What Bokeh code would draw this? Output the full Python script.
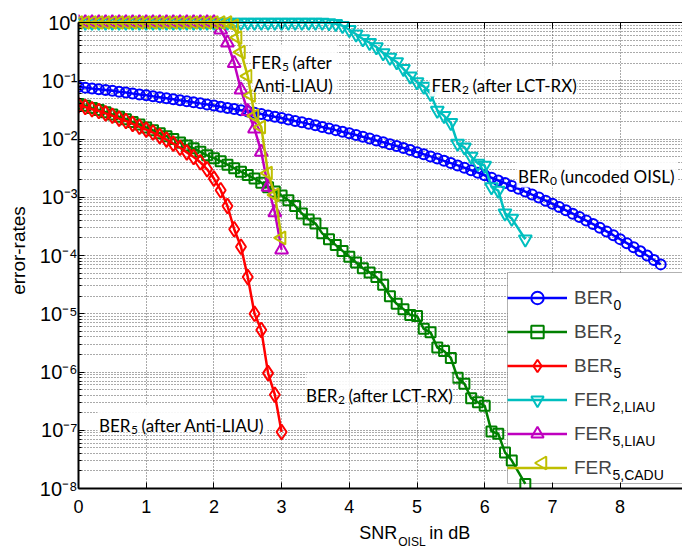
import math
from bokeh.plotting import figure
from bokeh.layouts import column
from bokeh.models import (Range1d, FixedTicker, LinearAxis, Label, Legend, LegendItem,
                          BoxAnnotation, CustomJSTickFormatter)
from bokeh.embed import file_html
from bokeh.resources import INLINE

# ---------------- data ----------------
snr_ber0 = [i / 10 for i in range(87)]
ber0 = [7.87e-2, 7.62e-2, 7.38e-2, 7.15e-2, 6.93e-2, 6.71e-2, 6.48e-2, 6.26e-2, 6.04e-2, 5.83e-2,
        5.63e-2, 5.42e-2, 5.22e-2, 5.02e-2, 4.83e-2, 4.64e-2, 4.46e-2, 4.27e-2, 4.09e-2, 3.92e-2,
        3.75e-2, 3.58e-2, 3.42e-2, 3.26e-2, 3.11e-2, 2.96e-2, 2.82e-2, 2.68e-2, 2.54e-2, 2.41e-2,
        2.29e-2, 2.16e-2, 2.04e-2, 1.93e-2, 1.82e-2, 1.72e-2, 1.61e-2, 1.52e-2, 1.42e-2, 1.33e-2,
        1.25e-2, 1.17e-2, 1.09e-2, 1.02e-2, 9.45e-3, 8.79e-3, 8.16e-3, 7.55e-3, 6.99e-3, 6.45e-3,
        5.95e-3, 5.47e-3, 5.03e-3, 4.62e-3, 4.22e-3, 3.86e-3, 3.52e-3, 3.21e-3, 2.91e-3, 2.64e-3,
        2.39e-3, 2.16e-3, 1.94e-3, 1.75e-3, 1.56e-3, 1.40e-3, 1.25e-3, 1.11e-3, 9.88e-4, 8.74e-4,
        7.72e-4, 6.81e-4, 5.97e-4, 5.23e-4, 4.57e-4, 3.98e-4, 3.46e-4, 3.00e-4, 2.59e-4, 2.23e-4,
        1.91e-4, 1.63e-4, 1.39e-4, 1.18e-4, 9.98e-5, 8.39e-5, 7.04e-5]

snr_ber2 = [i / 10 for i in range(65)] + [6.6]
ber2 = [3.98e-2, 3.72e-2, 3.39e-2, 3.16e-2, 2.88e-2, 2.63e-2, 2.40e-2, 2.19e-2, 1.95e-2, 1.78e-2,
        1.58e-2, 1.41e-2, 1.26e-2, 1.12e-2, 1.00e-2, 8.71e-3, 7.76e-3, 6.92e-3, 6.03e-3, 5.25e-3,
        4.68e-3, 4.17e-3, 3.63e-3, 3.16e-3, 2.75e-3, 2.40e-3, 2.09e-3, 1.78e-3, 1.48e-3, 1.26e-3,
        1.07e-3, 8.91e-4, 7.08e-4, 5.25e-4, 4.17e-4, 3.55e-4, 2.40e-4, 1.91e-4, 1.51e-4, 1.20e-4,
        9.55e-5, 7.59e-5, 6.03e-5, 5.13e-5, 4.27e-5, 3.16e-5, 2.00e-5, 1.48e-5, 1.20e-5, 9.55e-6,
        9.12e-6, 5.50e-6, 4.79e-6, 2.63e-6, 2.29e-6, 1.74e-6, 7.94e-7, 6.31e-7, 3.55e-7, 3.02e-7,
        2.63e-7, 9.55e-8, 8.71e-8, 4.17e-8, 3.02e-8, 1.20e-8]

snr_ber5 = [i / 10 for i in range(31)]
ber5 = [3.80e-2, 3.55e-2, 3.24e-2, 3.02e-2, 2.75e-2, 2.51e-2, 2.24e-2, 2.04e-2, 1.82e-2, 1.62e-2,
        1.45e-2, 1.29e-2, 1.12e-2, 9.77e-3, 8.32e-3, 7.08e-3, 5.89e-3, 4.90e-3, 3.98e-3, 3.02e-3,
        2.09e-3, 1.32e-3, 7.08e-4, 2.82e-4, 1.41e-4, 4.27e-5, 1.00e-5, 5.25e-6, 9.55e-7, 4.07e-7,
        9.33e-8]

snr_fer2 = [i / 10 for i in range(65)] + [6.6]
fer2 = [1.0] * 37 + [0.98, 0.95, 0.88, 0.75, 0.63, 0.52, 0.45, 0.38, 0.30, 0.25, 0.21, 0.16, 0.12,
                     0.095, 0.08, 0.06, 0.031, 0.025, 0.019, 8.4e-3, 7.2e-3, 5.0e-3, 3.8e-3, 3.5e-3,
                     1.5e-3, 1.3e-3, 5.3e-4, 4.3e-4, 1.9e-4]

snr_fer5l = [i / 10 for i in range(21)] + [2.1, 2.2, 2.3, 2.4, 2.5, 2.6, 2.7, 2.8, 2.9, 3.0]
fer5l = [1.0] * 21 + [0.75, 0.45, 0.2, 0.07, 0.03, 0.015, 6.0e-3, 1.5e-3, 5.5e-4, 1.25e-4]

snr_fer5c = [i / 10 for i in range(23)] + [2.3, 2.35, 2.4, 2.5, 2.55, 2.6, 2.7, 2.8, 2.9, 3.0]
fer5c = [1.0] * 23 + [0.88, 0.55, 0.31, 0.12, 0.056, 0.025, 0.016, 2.6e-3, 1.1e-3, 2.0e-4]

x_ticks = [0, 1, 2, 3, 4, 5, 6, 7, 8]
y_exponents = [0, -1, -2, -3, -4, -5, -6, -7, -8]
SUP = str.maketrans("0123456789-", "⁰¹²³⁴⁵⁶⁷⁸⁹⁻")
y_tick_labels = {10.0 ** e: "10" + str(e).translate(SUP) for e in y_exponents}

# ---------------- geometry (page has no margin) ----------------
W = 682
FRAME_L, AX_T, FRAME_B = 78, 22, 488      # AX_T: pixel row of the 10^0 line (top of the box)
FRAME_T = 12                               # canvas frame a little higher so top markers show whole
H_MAIN = 522
H_BOT = 548 - H_MAIN
PX_PER_X = 67.7
X_END = (W - FRAME_L) / PX_PER_X
PX_PER_DEC = (FRAME_B - AX_T) / 8.0
Y_END = 10 ** ((AX_T - FRAME_T) / PX_PER_DEC)
LEFT_TRI = math.pi / 2


def dx(px):
    return (px - FRAME_L) / PX_PER_X


def dy(py):
    return 10 ** (-(py - AX_T) / PX_PER_DEC)


p = figure(width=W, height=H_MAIN, y_axis_type="log", output_backend="svg", toolbar_location=None,
           x_range=Range1d(0, X_END), y_range=Range1d(1e-8, Y_END),
           min_border_left=FRAME_L, min_border_right=0, min_border_top=FRAME_T,
           min_border_bottom=H_MAIN - FRAME_B)
p.outline_line_color = None
p.background_fill_color = "white"
p.border_fill_color = "white"

minor = [k * 10.0 ** e for e in range(-8, 0) for k in range(2, 10)]
yt = FixedTicker(ticks=[10.0 ** e for e in y_exponents], minor_ticks=minor)
xt = FixedTicker(ticks=x_ticks, minor_ticks=[])
empty = CustomJSTickFormatter(code="return ''")

AX = "Liberation Sans"
p.xaxis.ticker = xt
p.xaxis.major_label_text_font = AX
p.xaxis.major_label_text_font_size = "18px"
p.xaxis.major_label_text_color = "black"
p.xaxis.major_label_standoff = 11
p.xaxis.major_tick_in = 6
p.xaxis.major_tick_out = 0
p.xaxis.minor_tick_in = 0
p.xaxis.minor_tick_out = 0
p.xaxis.axis_line_width = 2

p.yaxis.ticker = yt
p.yaxis.bounds = (1e-8, 1.0)
p.yaxis.major_label_overrides = y_tick_labels
p.yaxis.major_label_text_font = AX
p.yaxis.major_label_text_font_size = "20px"
p.yaxis.major_label_text_color = "black"
p.yaxis.major_label_standoff = 1
p.yaxis.major_tick_in = 6
p.yaxis.major_tick_out = 0
p.yaxis.minor_tick_in = 3
p.yaxis.minor_tick_out = 0
p.yaxis.axis_line_width = 2
p.yaxis.axis_label = "error-rates"
p.yaxis.axis_label_text_font = AX
p.yaxis.axis_label_text_font_size = "19px"
p.yaxis.axis_label_text_font_style = "normal"
p.yaxis.axis_label_text_color = "black"
p.yaxis.axis_label_standoff = 8

top = LinearAxis(ticker=xt, formatter=empty, major_tick_in=6, major_tick_out=0,
                 minor_tick_in=0, minor_tick_out=0, major_label_standoff=0,
                 major_label_text_font_size="1px", axis_line_width=1, fixed_location=1.0)
p.add_layout(top, "above")

p.xgrid.ticker = xt
p.ygrid.ticker = yt
for g in (p.xgrid, p.ygrid):
    g.grid_line_color = "#555555"
    g.grid_line_dash = "1 2"
    g.grid_line_width = 1
p.ygrid.minor_grid_line_color = "#555555"
p.ygrid.minor_grid_line_dash = "1 2"
p.ygrid.minor_grid_line_width = 1

# white strip above the 10^0 line hides the grid there (markers stay on top of it)
p.add_layout(BoxAnnotation(bottom=1.0, top=Y_END, fill_color="white", fill_alpha=1.0,
                           line_color=None, level="underlay"))

# legend background box: below the curves, as in the reference
LEG_L = 507
LEG_TOP = FRAME_B - 5 - (2 * 5 + 6 * 31 + 5 * 3)
p.add_layout(BoxAnnotation(left=dx(LEG_L), right=dx(W + 20), top=dy(LEG_TOP), bottom=dy(FRAME_B - 5),
                           fill_color="white", fill_alpha=1.0, line_color="black", line_width=1,
                           level="underlay"))

series = [
    (snr_ber0, ber0, "#0000ff", "circle", 10, 0.0, "BER", "0"),
    (snr_ber2, ber2, "#008000", "square", 10, 0.0, "BER", "2"),
    (snr_ber5, ber5, "#ff0000", "diamond", 15, 0.0, "BER", "5"),
    (snr_fer2, fer2, "#00bfbf", "inverted_triangle", 13, 0.0, "FER", "2,LIAU"),
    (snr_fer5l, fer5l, "#bf00bf", "triangle", 13, 0.0, "FER", "5,LIAU"),
    (snr_fer5c, fer5c, "#bfbf00", "triangle", 13, LEFT_TRI, "FER", "5,CADU"),
]

items = []
for xs, ys, col, mk, sz, ang, lab, sub in series:
    ln = p.line(xs, ys, line_color=col, line_width=2.5)
    sc = p.scatter(xs, ys, marker=mk, size=sz, angle=ang, line_color=col, line_width=2,
                   fill_color=None)
    # rotated markers are drawn unrotated by the legend, so that key gets its own marker below
    items.append(LegendItem(label=lab, renderers=[ln] if ang else [ln, sc]))

# ---------------- annotation boxes & texts ----------------
for (l, r, t, b) in [(252, 337, 44, 92), (429, 577, 66, 96), (516, 677, 157, 187),
                     (306, 452, 373, 402), (97, 267, 405, 432)]:
    p.add_layout(BoxAnnotation(left=dx(l), right=dx(r), top=dy(t), bottom=dy(b),
                               fill_color="white", fill_alpha=0.9, line_color=None))

AF = "Lato"


def label(px, py, text, size, align="left", baseline="alphabetic", font=AF):
    p.add_layout(Label(x=dx(px), y=dy(py), text=text, text_font=font,
                       text_font_size=f"{size}px", text_align=align,
                       text_baseline=baseline, text_color="black"))


def sub_text(split, base, main, sub, rest, size=17, subsize=12):
    label(split, base, main, size, align="right")
    label(split + 0.5, base + 4, sub, subsize)
    label(split + 11, base, rest, size)


sub_text(281, 62, "FER", "5", "(after")
label(253, 85, "Anti-LIAU)", 17)
sub_text(461, 85, "FER", "2", "(after LCT-RX)")
sub_text(549, 176, "BER", "0", "(uncoded OISL)")
sub_text(337, 395, "BER", "2", "(after LCT-RX)")
sub_text(130, 425, "BER", "5", "(after Anti-LIAU)")

# ---------------- legend (transparent, drawn over its own box) ----------------
legend = Legend(items=items, location=(LEG_L - FRAME_L, 5), glyph_width=60, glyph_height=31,
                label_height=31, label_width=110, spacing=3, padding=5, margin=0,
                label_standoff=7, label_text_font=AX, label_text_font_size="19px",
                border_line_color=None, background_fill_alpha=0.0)
p.add_layout(legend)

TEXT_X = LEG_L + 5 + 60 + 7
for i, (xs, ys, col, mk, sz, ang, lab, sub) in enumerate(series):
    cy = LEG_TOP + 5 + 15.5 + 34 * i
    wmain = 39 if lab == "BER" else 38
    label(TEXT_X + wmain - 5, cy + 12, sub, 14, font=AX)
    if ang:
        p.scatter([dx(LEG_L + 5 + 30)], [dy(cy)], marker=mk, size=13, angle=ang,
                  line_color=col, line_width=2, fill_color=None)

# ---------------- x-axis title strip ----------------
pb = figure(width=W, height=H_BOT, output_backend="svg", toolbar_location=None,
            x_range=Range1d(0, W), y_range=Range1d(0, H_BOT),
            x_axis_location=None, y_axis_location=None, min_border=0)
pb.outline_line_color = None
pb.xgrid.visible = False
pb.ygrid.visible = False
pb.border_fill_color = "white"
pb.background_fill_color = "white"


def blabel(px, py, text, size, align="left"):
    pb.add_layout(Label(x=px, y=548 - py, text=text, text_font=AX, text_font_size=f"{size}px",
                        text_align=align, text_baseline="alphabetic", text_color="black"))


blabel(360, 532, "SNR", 18, align="right")
blabel(361, 541, "OISL", 12)
blabel(396, 532, "in dB", 18)

layout = column(p, pb, spacing=0)
open("out.html", "w").write(file_html(layout, INLINE))
